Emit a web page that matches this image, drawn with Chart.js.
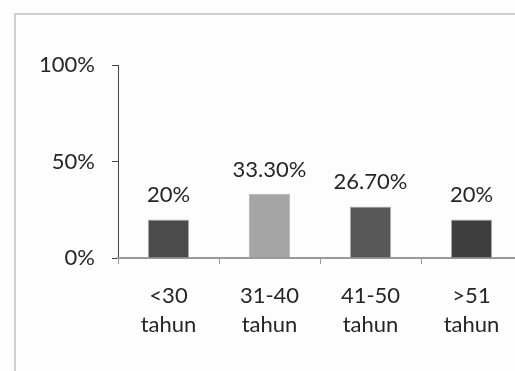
<!DOCTYPE html>
<html>
<head>
<meta charset="utf-8">
<script src="https://cdn.jsdelivr.net/npm/chart.js@4/dist/chart.umd.min.js"></script>
<style>
  html, body { margin: 0; padding: 0; overflow: hidden; background: #fdfdfd; }
  #wrap { position: relative; width: 515px; height: 371px; overflow: hidden; }
  #frame { position: absolute; left: 14px; top: 13px; width: 600px; height: 400px;
           border-top: 2px solid #cfcfcf; border-left: 2px solid #cfcfcf; }
  canvas { position: absolute; left: 0; top: 0; }
</style>
</head>
<body>
<div id="wrap">
  <div id="frame"></div>
  <canvas id="my-chart" width="530" height="371"></canvas>
</div>
<script>
const categories = [['<30', 'tahun'], ['31-40', 'tahun'], ['41-50', 'tahun'], ['>51', 'tahun']];
const values = [20, 33.3, 26.7, 20];
const barColors = ['#4b4b4b', '#a5a5a5', '#585858', '#3e3e3e'];
const yTicks = [0, 50, 100];

const fontFamily = 'Lato, "Open Sans", sans-serif';
const textColor = '#262626';

function pct(v) {
  return Number.isInteger(v) ? v + '%' : v.toFixed(2) + '%';
}

Chart.register({
  id: 'bar_labels',
  afterDatasetsDraw: (chart) => {
    const ctx = chart.ctx;
    const meta = chart.getDatasetMeta(0);
    ctx.save();
    ctx.font = '22px ' + fontFamily;
    ctx.fillStyle = textColor;
    ctx.textAlign = 'center';
    ctx.textBaseline = 'alphabetic';
    meta.data.forEach((bar, i) => {
      ctx.fillText(pct(values[i]), bar.x, bar.y - 17);
    });
    ctx.restore();
  }
});

let ctx = document.getElementById('my-chart').getContext('2d');

const config = {
  type: 'bar',
  data: {
    labels: categories,
    datasets: [{
      data: values,
      backgroundColor: barColors,
      borderColor: 'rgba(40,40,40,0.35)',
      borderWidth: 1,
      categoryPercentage: 1,
      barPercentage: 0.41
    }]
  },
  options: {
    responsive: false,
    animation: false,
    layout: { padding: { top: 65, left: 0, right: 8, bottom: 0 } },
    plugins: {
      legend: { display: false },
      tooltip: { enabled: false }
    },
    scales: {
      y: {
        min: 0,
        max: 100,
        afterFit: (s) => { s.width = 118; },
        afterBuildTicks: (s) => { s.ticks = yTicks.map(v => ({ value: v })); },
        ticks: {
          callback: (v) => v + '%',
          color: textColor,
          padding: 17,
          font: { size: 22, family: fontFamily }
        },
        grid: { drawOnChartArea: false, drawTicks: true, tickLength: 6, color: '#444' },
        border: { color: '#444', width: 1 }
      },
      x: {
        afterFit: (s) => { s.height = 113; },
        ticks: {
          color: textColor,
          padding: 17,
          maxRotation: 0,
          font: { size: 22, family: fontFamily, lineHeight: 1.32 }
        },
        grid: { drawOnChartArea: false, drawTicks: true, tickLength: 6, offset: true, color: '#999' },
        border: { color: '#999', width: 2 }
      }
    }
  }
};

let myChart = new Chart(ctx, config);
</script>
</body>
</html>
